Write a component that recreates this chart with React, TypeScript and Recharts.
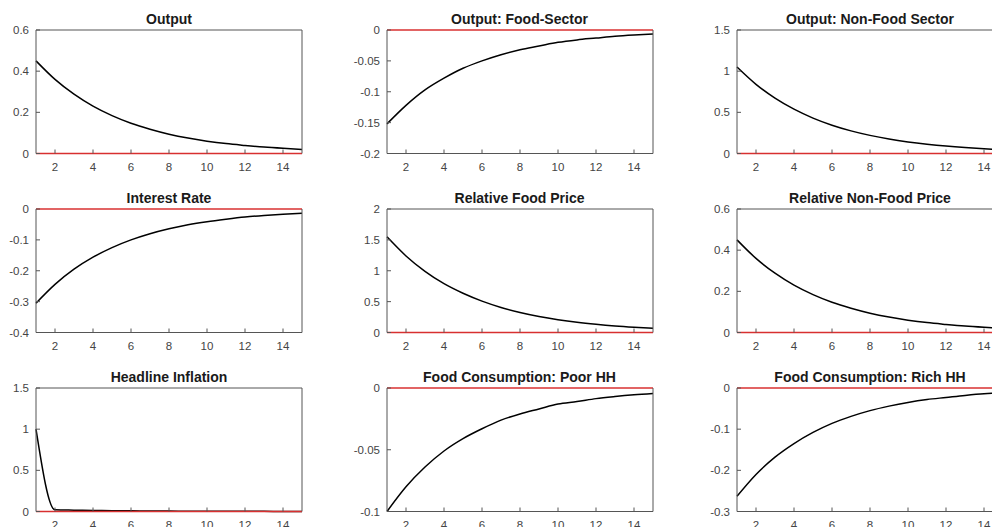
import { LineChart, Line, XAxis, YAxis } from 'recharts';

const periods = [1, 2, 3, 4, 5, 6, 7, 8, 9, 10, 11, 12, 13, 14, 15];
const xTicks = [2, 4, 6, 8, 10, 12, 14];

const output = [0.45, 0.36, 0.288, 0.23, 0.184, 0.147, 0.118, 0.094, 0.075, 0.06, 0.048, 0.039, 0.031, 0.025, 0.02];
const outputFood = [-0.152, -0.122, -0.097, -0.078, -0.062, -0.05, -0.04, -0.032, -0.026, -0.02, -0.016, -0.013, -0.01, -0.008, -0.0065];
const outputNonFood = [1.05, 0.84, 0.672, 0.538, 0.43, 0.344, 0.275, 0.22, 0.176, 0.141, 0.113, 0.09, 0.072, 0.058, 0.046];
const interestRate = [-0.305, -0.244, -0.195, -0.156, -0.125, -0.1, -0.08, -0.064, -0.051, -0.041, -0.033, -0.026, -0.021, -0.017, -0.014];
const relFoodPrice = [1.55, 1.24, 0.99, 0.79, 0.635, 0.508, 0.406, 0.325, 0.26, 0.208, 0.166, 0.133, 0.106, 0.085, 0.068];
const relNonFoodPrice = [0.45, 0.36, 0.288, 0.23, 0.184, 0.147, 0.118, 0.094, 0.075, 0.06, 0.048, 0.039, 0.031, 0.025, 0.02];
const headlineInflation = [1.0, 0.02, 0.016, 0.013, 0.01, 0.008, 0.006, 0.005, 0.004, 0.003, 0.0025, 0.002, 0.0016, 0.0013, 0.001];
const consPoor = [-0.1, -0.08, -0.064, -0.051, -0.041, -0.033, -0.026, -0.021, -0.017, -0.013, -0.011, -0.0086, -0.0069, -0.0055, -0.0044];
const consRich = [-0.263, -0.21, -0.168, -0.135, -0.108, -0.086, -0.069, -0.055, -0.044, -0.035, -0.028, -0.023, -0.018, -0.014, -0.012];

const PW = 266;
const PH = 123.5;
const colLeft = [36, 386.5, 737];
const rowTop = [30, 209, 388];

const FONT = '"Liberation Sans", Arial, Helvetica, sans-serif';
const AXIS = '#555';
const tickStyle = { fontSize: 11.5, fill: '#444', fontFamily: FONT };

type PanelProps = { title: string; values: number[]; yTicks: number[]; left: number; top: number };

function Panel({ title, values, yTicks, left, top }: PanelProps) {
  const rows = periods.map((t, i) => ({ t, v: values[i], zero: 0 }));
  const domain = [yTicks[0], yTicks[yTicks.length - 1]];
  // the red zero line sits on the box edge, so drop that edge's axis line
  const zeroAtTop = domain[1] === 0;
  const zeroAtBottom = domain[0] === 0;
  return (
    <div style={{ position: 'absolute', left: left - 40, top: top - 30 }}>
      <div
        style={{
          position: 'absolute',
          left: 40,
          width: PW,
          top: 11,
          lineHeight: '16px',
          textAlign: 'center',
          fontFamily: FONT,
          fontWeight: 'bold',
          fontSize: 14,
          color: '#1a1a1a',
        }}
      >
        {title}
      </div>
      <LineChart
        width={40 + PW + 10}
        height={30 + PH + 30}
        data={rows}
        margin={{ top: 29, right: 9, bottom: 29, left: 0 }}
        style={{ fontFamily: FONT, fontSize: 11.5 }}
      >
        <XAxis
          dataKey="t"
          type="number"
          domain={[1, 15]}
          ticks={xTicks}
          height={1}
          tickSize={-4}
          tickMargin={13}
          tick={tickStyle}
          fontSize={11.5}
          axisLine={!zeroAtBottom}
          stroke={AXIS}
        />
        <XAxis
          xAxisId="top"
          orientation="top"
          dataKey="t"
          type="number"
          domain={[1, 15]}
          ticks={xTicks}
          height={1}
          tickSize={-4}
          tick={false}
          axisLine={!zeroAtTop}
          stroke={AXIS}
        />
        <YAxis
          type="number"
          domain={domain}
          ticks={yTicks}
          width={40}
          tickSize={-4}
          tickMargin={11}
          tick={tickStyle}
          fontSize={11.5}
          stroke={AXIS}
        />
        <YAxis
          yAxisId="right"
          orientation="right"
          type="number"
          domain={domain}
          ticks={yTicks}
          width={1}
          tickSize={-4}
          tick={false}
          stroke={AXIS}
        />
        <Line dataKey="v" type="monotone" stroke="#000" strokeWidth={1.5} dot={false} isAnimationActive={false} />
        <Line
          dataKey="zero"
          xAxisId="top"
          yAxisId="right"
          type="linear"
          stroke="#d83030"
          strokeWidth={1.5}
          dot={false}
          isAnimationActive={false}
        />
      </LineChart>
    </div>
  );
}

export default function App() {
  return (
    <div
      style={{
        position: 'fixed',
        left: 0,
        top: 0,
        width: 992,
        height: 527,
        overflow: 'hidden',
        background: '#fff',
      }}
    >
      <Panel title="Output" values={output} yTicks={[0, 0.2, 0.4, 0.6]} left={colLeft[0]} top={rowTop[0]} />
      <Panel title="Output: Food-Sector" values={outputFood} yTicks={[-0.2, -0.15, -0.1, -0.05, 0]} left={colLeft[1]} top={rowTop[0]} />
      <Panel title="Output: Non-Food Sector" values={outputNonFood} yTicks={[0, 0.5, 1, 1.5]} left={colLeft[2]} top={rowTop[0]} />
      <Panel title="Interest Rate" values={interestRate} yTicks={[-0.4, -0.3, -0.2, -0.1, 0]} left={colLeft[0]} top={rowTop[1]} />
      <Panel title="Relative Food Price" values={relFoodPrice} yTicks={[0, 0.5, 1, 1.5, 2]} left={colLeft[1]} top={rowTop[1]} />
      <Panel title="Relative Non-Food Price" values={relNonFoodPrice} yTicks={[0, 0.2, 0.4, 0.6]} left={colLeft[2]} top={rowTop[1]} />
      <Panel title="Headline Inflation" values={headlineInflation} yTicks={[0, 0.5, 1, 1.5]} left={colLeft[0]} top={rowTop[2]} />
      <Panel title="Food Consumption: Poor HH" values={consPoor} yTicks={[-0.1, -0.05, 0]} left={colLeft[1]} top={rowTop[2]} />
      <Panel title="Food Consumption: Rich HH" values={consRich} yTicks={[-0.3, -0.2, -0.1, 0]} left={colLeft[2]} top={rowTop[2]} />
    </div>
  );
}
